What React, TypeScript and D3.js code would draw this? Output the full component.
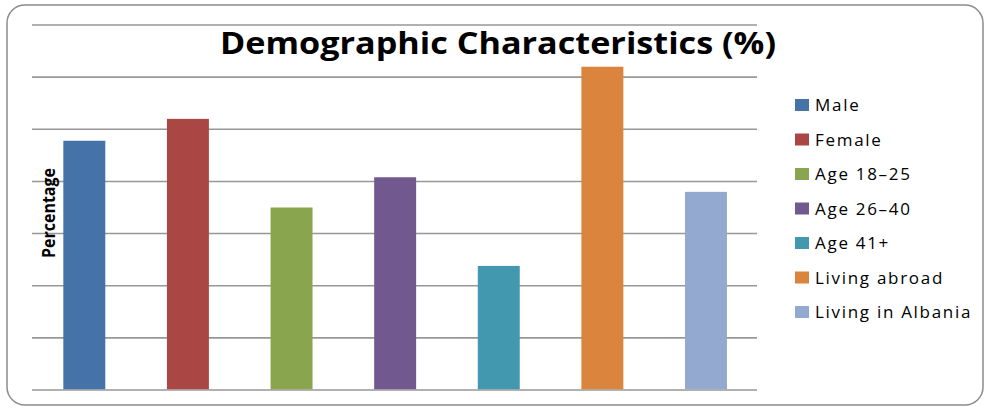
import React from "react";
import * as d3 from "d3";

const categories: string[] = [
  "Male",
  "Female",
  "Age 18\u201325",
  "Age 26\u201340",
  "Age 41+",
  "Living abroad",
  "Living in Albania",
];
const values: number[] = [23.9, 26.0, 17.5, 20.4, 11.9, 31.0, 19.0];
const colors: string[] = [
  "#4572A7",
  "#AA4643",
  "#89A54E",
  "#71588F",
  "#4198AF",
  "#DB843D",
  "#93A9CF",
];
const gridTicks: number[] = [0, 5, 10, 15, 20, 25, 30, 35];
const title = "Demographic Characteristics (%)";
const yLabel = "Percentage";

const W = 986;
const H = 408;

export default function App() {
  const x = d3
    .scaleBand<string>()
    .domain(categories)
    .range([32.5, 757.8])
    .paddingInner(0.595)
    .paddingOuter(0.2975);
  const y = d3.scaleLinear().domain([0, 35]).range([390, 25]);

  const legendX = 795;
  const legendY0 = 105;
  const legendStep = 34.5;

  return (
    <svg
      width={W}
      height={H}
      style={{ position: "absolute", left: 0, top: 0, background: "#fff" }}
      fontFamily="'Open Sans', 'Noto Sans', sans-serif"
    >
      <rect
        x={7}
        y={5}
        width={976}
        height={400}
        rx={18}
        ry={18}
        fill="#fff"
        stroke="#8c8c8c"
        strokeWidth={1.5}
      />
      {gridTicks.map((t) => (
        <line
          key={t}
          x1={32}
          x2={757}
          y1={y(t)}
          y2={y(t)}
          stroke="#979797"
          strokeWidth={1.6}
        />
      ))}
      {categories.map((c, i) => (
        <rect
          key={c}
          x={x(c)}
          y={y(values[i])}
          width={x.bandwidth()}
          height={y(0) - y(values[i]) - 0.8}
          fill={colors[i]}
        />
      ))}
      <text
        x={498}
        y={54}
        textAnchor="middle"
        fontSize={31}
        fontWeight="bold"
        fill="#000"
        textLength={556}
        lengthAdjust="spacingAndGlyphs"
      >
        {title}
      </text>
      <text
        transform="translate(54.5,213) rotate(-90)"
        textAnchor="middle"
        fontSize={17}
        fontWeight="bold"
        fill="#000"
        textLength={90}
        lengthAdjust="spacingAndGlyphs"
      >
        {yLabel}
      </text>
      {categories.map((c, i) => (
        <g key={c} transform={`translate(${legendX},${legendY0 + i * legendStep})`}>
          <rect x={0} y={-6} width={14} height={12} fill={colors[i]} />
          <text
            x={20}
            y={6}
            fontSize={17}
            letterSpacing={1.7}
            fill="#000"
          >
            {c}
          </text>
        </g>
      ))}
    </svg>
  );
}
